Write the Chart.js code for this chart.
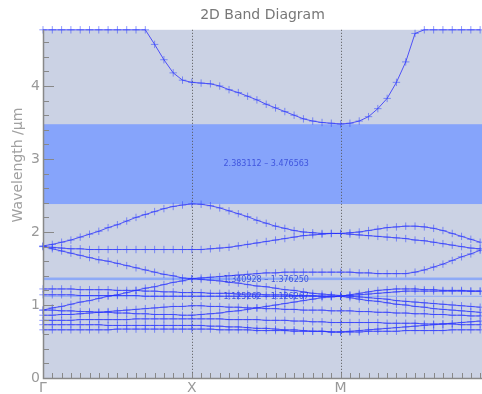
<!DOCTYPE html>
<html>
<head>
<meta charset="utf-8">
<script src="https://cdn.jsdelivr.net/npm/chart.js@4"></script>
<style>
  body { margin: 0; background: #fff; }
  #wrap { width: 482px; height: 394px; position: relative; }
</style>
</head>
<body>
<div id="wrap"><canvas id="bandChart"></canvas></div>
<script>
// k-path samples (Γ = 0, X = 1, M = 2)
const kPath = [0, 0.0625, 0.125, 0.1875, 0.25, 0.3125, 0.375, 0.4375, 0.5, 0.5625, 0.625, 0.6875,
  0.75, 0.8125, 0.875, 0.9375, 1, 1.0625, 1.125, 1.1875, 1.25, 1.3125, 1.375, 1.4375,
  1.5, 1.5625, 1.625, 1.6875, 1.75, 1.8125, 1.875, 1.9375, 2, 2.0625, 2.125, 2.1875,
  2.25, 2.3125, 2.375, 2.4375, 2.5, 2.5625, 2.625, 2.6875, 2.75, 2.8125, 2.875, 2.9375];

const xTickPos = [0, 1, 2];
const xTickLabels = ['Γ', 'X', 'M'];
const yTickLabels = [0, 1, 2, 3, 4];

// band gaps
const gapLow = [2.383112, 1.340928, 1.125262];
const gapHigh = [3.476563, 1.376250, 1.126267];
const gapText = ['2.383112 – 3.476563', '1.340928 – 1.376250', '1.125262 – 1.126267'];

// bands (wavelength, µm)
const band1 = [4.77, 4.77, 4.77, 4.77, 4.77, 4.77, 4.77, 4.77, 4.77, 4.77, 4.77, 4.77,
  4.57, 4.36, 4.18, 4.08, 4.05,
  4.04, 4.03, 4.00, 3.95, 3.91, 3.86, 3.81, 3.75, 3.70, 3.65, 3.60, 3.55, 3.52, 3.50, 3.49, 3.48,
  3.49, 3.52, 3.58, 3.69, 3.83, 4.05, 4.33, 4.72,
  4.77, 4.77, 4.77, 4.77, 4.77, 4.77, 4.77];
const band2 = [1.81, 1.83, 1.86, 1.89, 1.93, 1.97, 2.01, 2.06, 2.10, 2.15, 2.20, 2.24, 2.28, 2.32, 2.35, 2.37, 2.385,
  2.38, 2.36, 2.33, 2.29, 2.25, 2.21, 2.16, 2.12, 2.08, 2.05, 2.02, 2.00, 1.99, 1.98, 1.98, 1.98,
  1.99, 2.00, 2.02, 2.04, 2.06, 2.07, 2.08, 2.08, 2.07, 2.05, 2.02, 1.98, 1.94, 1.90, 1.86];
const band3 = [1.80, 1.79, 1.78, 1.77, 1.77, 1.76, 1.76, 1.76, 1.76, 1.76, 1.76, 1.76, 1.76, 1.76, 1.76, 1.76, 1.76,
  1.76, 1.77, 1.78, 1.79, 1.81, 1.83, 1.85, 1.87, 1.89, 1.91, 1.93, 1.95, 1.96, 1.97, 1.98, 1.98,
  1.97, 1.96, 1.95, 1.94, 1.93, 1.92, 1.91, 1.89, 1.88, 1.86, 1.84, 1.82, 1.80, 1.78, 1.77];
const band4 = [1.80, 1.77, 1.74, 1.71, 1.68, 1.65, 1.62, 1.60, 1.57, 1.54, 1.51, 1.48, 1.45, 1.42, 1.40, 1.37, 1.36,
  1.37, 1.38, 1.39, 1.40, 1.41, 1.42, 1.43, 1.44, 1.44, 1.45, 1.45, 1.45, 1.45, 1.45, 1.45, 1.45,
  1.45, 1.44, 1.44, 1.43, 1.43, 1.43, 1.43, 1.45, 1.48, 1.52, 1.56, 1.61, 1.66, 1.70, 1.75];
const band5 = [0.93, 0.96, 0.98, 1.01, 1.04, 1.06, 1.09, 1.12, 1.14, 1.17, 1.20, 1.23, 1.25, 1.28, 1.31, 1.33, 1.36,
  1.35, 1.34, 1.33, 1.31, 1.30, 1.28, 1.26, 1.25, 1.23, 1.21, 1.20, 1.18, 1.16, 1.15, 1.14, 1.13,
  1.12, 1.11, 1.10, 1.09, 1.08, 1.06, 1.05, 1.04, 1.03, 1.02, 1.01, 1.00, 0.99, 0.98, 0.97];
const band6 = [1.22, 1.22, 1.22, 1.22, 1.21, 1.21, 1.21, 1.21, 1.20, 1.20, 1.20, 1.19, 1.19, 1.18, 1.18, 1.17, 1.17,
  1.17, 1.16, 1.16, 1.16, 1.15, 1.15, 1.15, 1.14, 1.14, 1.14, 1.13, 1.13, 1.13, 1.12, 1.12, 1.12,
  1.13, 1.14, 1.15, 1.16, 1.17, 1.18, 1.19, 1.19, 1.19, 1.19, 1.19, 1.19, 1.19, 1.19, 1.19];
const band7 = [1.14, 1.14, 1.14, 1.14, 1.13, 1.13, 1.13, 1.13, 1.13, 1.13, 1.13, 1.12, 1.12, 1.12, 1.12, 1.12, 1.12,
  1.12, 1.12, 1.12, 1.12, 1.12, 1.12, 1.12, 1.12, 1.12, 1.12, 1.12, 1.12, 1.12, 1.12, 1.12, 1.12,
  1.14, 1.16, 1.18, 1.20, 1.21, 1.22, 1.22, 1.22, 1.21, 1.21, 1.20, 1.20, 1.20, 1.19, 1.19];
const band8 = [0.93, 0.93, 0.92, 0.92, 0.91, 0.91, 0.90, 0.90, 0.89, 0.89, 0.88, 0.88, 0.87, 0.87, 0.87, 0.86, 0.86,
  0.87, 0.88, 0.89, 0.91, 0.92, 0.94, 0.96, 0.98, 1.00, 1.02, 1.04, 1.06, 1.08, 1.10, 1.11, 1.12,
  1.10, 1.08, 1.06, 1.05, 1.03, 1.01, 1.00, 0.98, 0.97, 0.95, 0.94, 0.93, 0.92, 0.91, 0.90];
const band9 = [0.86, 0.86, 0.87, 0.87, 0.88, 0.89, 0.90, 0.91, 0.92, 0.93, 0.94, 0.95, 0.96, 0.97, 0.98, 0.98, 0.99,
  0.99, 0.98, 0.98, 0.97, 0.97, 0.96, 0.96, 0.95, 0.95, 0.94, 0.94, 0.93, 0.93, 0.93, 0.92, 0.92,
  0.92, 0.91, 0.91, 0.90, 0.90, 0.89, 0.89, 0.88, 0.88, 0.87, 0.87, 0.86, 0.86, 0.85, 0.85];
const band10 = [0.79, 0.79, 0.79, 0.79, 0.80, 0.80, 0.80, 0.80, 0.80, 0.80, 0.81, 0.81, 0.81, 0.81, 0.81, 0.81, 0.81,
  0.81, 0.81, 0.81, 0.80, 0.80, 0.80, 0.80, 0.79, 0.79, 0.79, 0.78, 0.78, 0.77, 0.77, 0.76, 0.76,
  0.76, 0.76, 0.76, 0.76, 0.75, 0.75, 0.75, 0.75, 0.74, 0.74, 0.74, 0.74, 0.73, 0.73, 0.73];
const band11 = [0.73, 0.73, 0.73, 0.73, 0.73, 0.73, 0.73, 0.72, 0.72, 0.72, 0.72, 0.72, 0.72, 0.72, 0.72, 0.72, 0.72,
  0.72, 0.71, 0.71, 0.70, 0.70, 0.69, 0.68, 0.68, 0.67, 0.66, 0.66, 0.65, 0.64, 0.64, 0.63, 0.63,
  0.64, 0.65, 0.66, 0.67, 0.68, 0.69, 0.70, 0.71, 0.72, 0.73, 0.74, 0.75, 0.76, 0.77, 0.78];
const band12 = [0.66, 0.66, 0.66, 0.66, 0.66, 0.66, 0.66, 0.66, 0.67, 0.67, 0.67, 0.67, 0.67, 0.67, 0.67, 0.67, 0.67,
  0.67, 0.67, 0.66, 0.66, 0.66, 0.66, 0.65, 0.65, 0.65, 0.65, 0.64, 0.64, 0.64, 0.64, 0.63, 0.63,
  0.63, 0.63, 0.64, 0.64, 0.64, 0.64, 0.65, 0.65, 0.65, 0.65, 0.65, 0.66, 0.66, 0.66, 0.66];

const bands = [band1, band2, band3, band4, band5, band6, band7, band8, band9, band10, band11, band12];

const Y_MAX = 4.77;
const X_MAX = 2.95;
const TEXT_FONT = 'DejaVu Sans, sans-serif';

// background, gaps, dotted lines, axis title
const decorPlugin = {
  id: 'decor',
  beforeDraw(chart) {
    const { ctx, chartArea: a, scales: { x, y } } = chart;
    ctx.save();
    ctx.fillStyle = '#cbd2e4';
    ctx.fillRect(a.left, a.top, a.right - a.left, a.bottom - a.top);

    // gaps
    gapLow.forEach((lo, i) => {
      const yTop = y.getPixelForValue(gapHigh[i]);
      const yBot = y.getPixelForValue(lo);
      ctx.fillStyle = i === 0 ? '#86a4fb' : '#8eaaf6';
      ctx.fillRect(a.left, yTop, a.right - a.left, Math.max(1, yBot - yTop));
    });

    // gap labels
    ctx.font = '8px ' + TEXT_FONT;
    ctx.fillStyle = '#3f55de';
    ctx.textAlign = 'center';
    ctx.textBaseline = 'middle';
    gapLow.forEach((lo, i) => {
      const yMid = y.getPixelForValue((lo + gapHigh[i]) / 2);
      ctx.fillText(gapText[i], x.getPixelForValue(1.5), yMid + (i === 0 ? 0 : 1));
    });

    // symmetry points
    ctx.strokeStyle = '#555';
    ctx.lineWidth = 1;
    ctx.setLineDash([1, 2]);
    [1, 2].forEach(v => {
      const px = Math.round(x.getPixelForValue(v)) + 0.5;
      ctx.beginPath();
      ctx.moveTo(px, a.top);
      ctx.lineTo(px, a.bottom);
      ctx.stroke();
    });
    ctx.setLineDash([]);

    // y title
    ctx.save();
    ctx.translate(18, 165);
    ctx.rotate(-Math.PI / 2);
    ctx.font = '14px ' + TEXT_FONT;
    ctx.fillStyle = '#a0a0a0';
    ctx.textAlign = 'center';
    ctx.textBaseline = 'middle';
    ctx.fillText('Wavelength /µm', 0, 0);
    ctx.restore();
    ctx.restore();
  },
  afterDatasetsDraw(chart) {
    const { ctx, chartArea: a, scales: { x, y } } = chart;
    ctx.save();
    ctx.strokeStyle = '#888';
    ctx.lineWidth = 1;
    // y ticks, inward
    for (let v = 0; v <= Y_MAX; v += 0.2) {
      const py = Math.round(y.getPixelForValue(v)) + 0.5;
      const major = Math.abs(v - Math.round(v)) < 1e-6;
      ctx.beginPath();
      ctx.moveTo(a.left, py);
      ctx.lineTo(a.left + (major ? 11 : 6), py);
      ctx.stroke();
    }
    // x ticks, inward
    kPath.forEach(k => {
      const px = Math.round(x.getPixelForValue(k)) + 0.5;
      ctx.beginPath();
      ctx.moveTo(px, a.bottom);
      ctx.lineTo(px, a.bottom - 5);
      ctx.stroke();
    });
    // axis lines
    ctx.lineWidth = 1.5;
    ctx.beginPath();
    ctx.moveTo(a.left + 0.5, a.top);
    ctx.lineTo(a.left + 0.5, a.bottom + 0.5);
    ctx.lineTo(a.right, a.bottom + 0.5);
    ctx.stroke();
    ctx.restore();
  }
};

const datasets = bands.map((vals, n) => ({
  label: 'band ' + (n + 1),
  data: kPath.map((k, i) => ({ x: k, y: vals[i] })),
  borderColor: 'rgba(25, 25, 255, 0.7)',
  borderWidth: 1,
  pointStyle: 'cross',
  pointRadius: 3.7,
  pointBorderColor: 'rgba(50, 70, 255, 0.55)',
  pointBorderWidth: 1,
  pointBackgroundColor: 'transparent',
  tension: 0,
  clip: false
}));

const ctx = document.getElementById('bandChart').getContext('2d');
new Chart(ctx, {
  type: 'line',
  data: { datasets },
  options: {
    responsive: true,
    maintainAspectRatio: false,
    animation: false,
    layout: { padding: 0, autoPadding: false },
    plugins: {
      legend: { display: false },
      tooltip: { enabled: false },
      title: {
        display: true,
        text: '2D Band Diagram',
        color: '#777',
        fullSize: false,
        font: { family: TEXT_FONT, size: 14, weight: 'normal' },
        padding: { top: 7, bottom: 6 }
      }
    },
    scales: {
      x: {
        type: 'linear',
        min: 0,
        max: X_MAX,
        grid: { display: false, drawTicks: false },
        border: { display: false },
        afterBuildTicks: s => { s.ticks = xTickPos.map(v => ({ value: v })); },
        afterFit: s => { s.height = 16; },
        ticks: {
          color: '#999',
          padding: 2,
          maxRotation: 0,
          autoSkip: false,
          font: { family: TEXT_FONT, size: 14 },
          callback: v => xTickLabels[xTickPos.indexOf(v)]
        }
      },
      y: {
        type: 'linear',
        min: 0,
        max: Y_MAX,
        grid: { display: false, drawTicks: false },
        border: { display: false },
        afterBuildTicks: s => { s.ticks = yTickLabels.map(v => ({ value: v })); },
        afterFit: s => { s.width = 43; },
        ticks: {
          color: '#999',
          padding: 3,
          font: { family: TEXT_FONT, size: 14 },
          callback: v => String(v)
        }
      }
    }
  },
  plugins: [decorPlugin]
});
</script>
</body>
</html>
